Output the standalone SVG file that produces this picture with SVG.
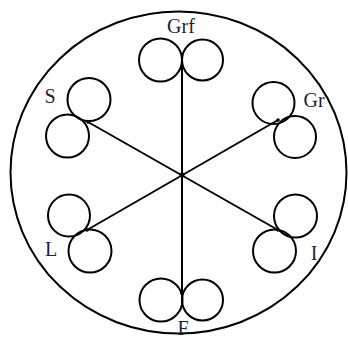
<svg xmlns="http://www.w3.org/2000/svg" width="348" height="340" viewBox="0 0 348 340">
<style>
.c{fill:none;stroke:#000;stroke-width:2}
.l{stroke:#000;stroke-width:2;fill:none}
.t{font-family:"Liberation Serif",serif;font-size:20px;fill:#1a1f3a;text-anchor:middle}
.d{fill:#000}
</style>
<rect width="348" height="340" fill="#fff"/>
<ellipse id="outer" cx="178.5" cy="172.5" rx="168" ry="161" fill="none" stroke="#000" stroke-width="2"/>
<g id="connectors">
<line class="l" x1="182" y1="66" x2="182" y2="293"/>
<line class="l" x1="88" y1="122" x2="278" y2="230"/>
<line class="l" x1="278" y1="120" x2="87" y2="230"/>
<circle class="d" cx="182" cy="175" r="2.5"/>
</g>
<g id="Grf">
<circle class="c" cx="160.5" cy="60" r="21.5"/>
<circle class="c" cx="202.5" cy="60" r="20.5"/>
<circle class="d" cx="182" cy="67" r="1.8"/>
<text class="t" x="181" y="33">Grf</text>
</g>
<g id="S">
<circle class="c" cx="89" cy="99.5" r="21.5"/>
<circle class="c" cx="67.5" cy="136" r="21.5"/>
<circle class="d" cx="88" cy="122" r="1.8"/>
<text class="t" x="50" y="103">S</text>
</g>
<g id="Gr">
<circle class="c" cx="273.5" cy="103" r="21"/>
<circle class="c" cx="295" cy="137" r="21"/>
<circle class="d" cx="278" cy="120" r="1.8"/>
<text class="t" x="314" y="107">Gr</text>
</g>
<g id="L">
<circle class="c" cx="69" cy="215.5" r="21"/>
<circle class="c" cx="90" cy="251" r="21.5"/>
<circle class="d" cx="87" cy="230" r="1.8"/>
<text class="t" x="51" y="256">L</text>
</g>
<g id="I">
<circle class="c" cx="295.5" cy="216" r="21.5"/>
<circle class="c" cx="274.5" cy="251" r="21.5"/>
<circle class="d" cx="278" cy="230" r="1.8"/>
<text class="t" x="314" y="260">I</text>
</g>
<g id="F">
<circle class="c" cx="161" cy="300" r="21.5"/>
<circle class="c" cx="202.5" cy="300" r="20.5"/>
<circle class="d" cx="182" cy="293" r="1.8"/>
<text class="t" x="183" y="335">F</text>
</g>
</svg>
